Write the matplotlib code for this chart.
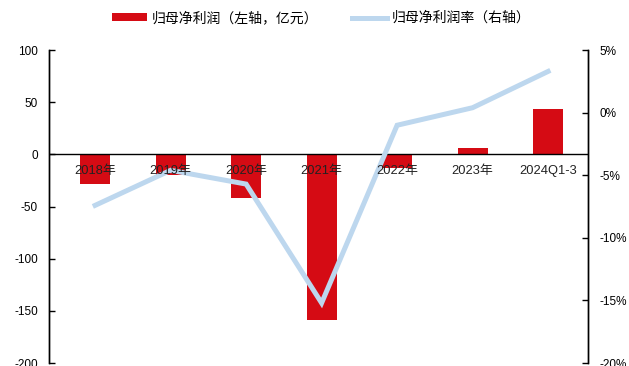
import matplotlib
matplotlib.use("Agg")
import matplotlib.pyplot as plt
import matplotlib.transforms as mtransforms
from matplotlib.patches import Patch
from matplotlib.lines import Line2D

plt.rcParams['font.family'] = ['Liberation Sans', 'Noto Sans CJK SC', 'DejaVu Sans']
plt.rcParams['axes.unicode_minus'] = True

categories = ["2018年", "2019年", "2020年", "2021年", "2022年", "2023年", "2024Q1-3"]
net_profit = [-28, -20, -42, -159, -13, 6, 44]          # 亿元, left axis
net_margin = [-7.4, -4.6, -5.7, -15.2, -1.0, 0.4, 3.3]  # %, right axis

left_ticks = [100, 50, 0, -50, -100, -150, -200]
right_ticks = [5, 0, -5, -10, -15, -20]

bar_color = "#D50B14"
line_color = "#BDD7EE"

fig = plt.figure(figsize=(6.29, 3.66), dpi=100)
ax = fig.add_axes([0.078, 0.008, 0.857, 0.855])
ax2 = ax.twinx()

x = list(range(len(categories)))
ax.bar(x, net_profit, width=0.4, color=bar_color, zorder=2)
ax.axhline(0, color="black", linewidth=1.0, zorder=3)
ax.set_xlim(-0.61, 6.53)
ax.set_ylim(-200, 100)
ax.set_yticks(left_ticks)
ax.set_yticklabels([str(v) for v in left_ticks])
ax.set_xticks([])

ax2.plot(x, net_margin, color=line_color, linewidth=3.6, zorder=4,
         solid_joinstyle="miter")
ax2.set_ylim(-20, 5)
ax2.set_yticks(right_ticks)
ax2.set_yticklabels([f"{v}%" for v in right_ticks])

for a in (ax, ax2):
    a.spines["top"].set_visible(False)
    a.spines["bottom"].set_visible(False)
    a.spines["left"].set_linewidth(1.0)
    a.spines["right"].set_linewidth(1.0)
    a.tick_params(axis="y", direction="in", length=4, width=1.0,
                  labelsize=8.5, colors="black", pad=8)

# category labels sit just under the zero line
offset = mtransforms.ScaledTranslation(0, -11 / 100, fig.dpi_scale_trans)
for xi, lab in zip(x, categories):
    ax2.text(xi, 0, lab, transform=ax.transData + offset, ha="center", va="top",
             fontsize=9.3, color="#222222", zorder=5,
             family=['Liberation Sans', 'Noto Sans CJK SC'])

handles = [Patch(facecolor=bar_color, edgecolor="none"),
           Line2D([0], [0], color=line_color, linewidth=3.6)]
labels = ["归母净利润（左轴，亿元）", "归母净利润率（右轴）"]
fig.legend(handles, labels, loc="center", bbox_to_anchor=(0.511, 0.951),
           ncol=2, frameon=False, handlelength=2.5,
           handleheight=0.43, columnspacing=2.4, handletextpad=0.36,
           borderpad=0.0,
           prop={'family': ['Noto Sans CJK SC', 'DejaVu Sans'], 'size': 10})

fig.savefig("out.png", dpi=100)
